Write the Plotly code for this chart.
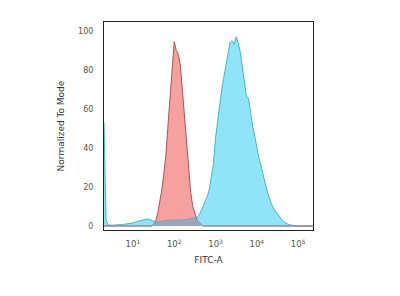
import numpy as np
import plotly.graph_objects as go

# log10 fluorescence grid (FITC-A)
log_x = [round(0.30 + 0.05 * i, 2) for i in range(102)]

cyan_vals = [
    53, 3, 0.5, 0.3, 0.4, 0.5, 0.5, 0.6, 0.7, 0.8,          # 0.30-0.75
    0.9, 1.0, 1.1, 1.3, 1.6, 2.0, 2.3, 2.6, 3.0, 3.3,       # 0.80-1.25
    3.4, 3.6, 3.4, 3.0, 2.3, 2.0, 2.2, 2.4, 2.6, 2.8,       # 1.30-1.75
    2.9, 3.0, 3.0, 3.0, 3.1, 3.1, 3.1, 3.2, 3.2, 3.3,       # 1.80-2.25
    3.4, 3.5, 3.7, 4.0, 4.3, 4.5, 5.5, 7.5, 10, 13,         # 2.30-2.75
    15, 19, 25, 32, 45, 54, 63, 70, 76, 82,                 # 2.80-3.25
    88, 94, 95, 93, 97, 94, 89, 81, 74, 66,                 # 3.30-3.75
    65.5, 58, 51, 46, 40, 35, 31, 26, 22, 18,               # 3.80-4.25
    14.5, 11.5, 9, 7.5, 6, 4.5, 3.2, 2.2, 1.5, 1.0,         # 4.30-4.75
    0.6, 0.3, 0.1, 0, 0, 0, 0, 0.2, 0.3, 0.1,               # 4.80-5.25
    0, 0,                                                   # 5.30-5.35
]

red_vals = [0] * 24 + [
    0.8, 2.5, 6.5, 12, 18.5, 27, 37, 52, 66, 79,            # 1.50-1.95
    94.5, 90, 88, 82, 69, 54, 40, 28, 17, 10,               # 2.00-2.45
    6, 3.2, 1.8, 0.6, 0,                                    # 2.50-2.70
] + [0] * 53

x_vals = [10 ** v for v in log_x]
overlap = [min(a, b) if b > 0 else 0 for a, b in zip(cyan_vals, red_vals)]

fig = go.Figure()
fig.add_trace(go.Scatter(x=x_vals, y=cyan_vals, mode="lines", fill="tozeroy",
                         fillcolor="#8fe4f7", line=dict(color="#45b7c8", width=1),
                         hoverinfo="skip", showlegend=False))
fig.add_trace(go.Scatter(x=x_vals, y=red_vals, mode="lines", fill="tozeroy",
                         fillcolor="#f6a0a0", line=dict(color="#a8555a", width=1),
                         hoverinfo="skip", showlegend=False))
fig.add_trace(go.Scatter(x=x_vals, y=overlap, mode="lines", fill="tozeroy",
                         fillcolor="#97a8bb", line=dict(color="#8a9db2", width=0.8),
                         hoverinfo="skip", showlegend=False))

tick_vals = [10, 100, 1000, 10000, 100000]
tick_text = ["10<sup>1</sup>", "10<sup>2</sup>", "10<sup>3</sup>", "10<sup>4</sup>", "10<sup>5</sup>"]

fig.update_layout(
    width=400, height=296,
    margin=dict(l=104, r=87, t=22, b=66),
    paper_bgcolor="white", plot_bgcolor="white",
    font=dict(family="DejaVu Sans", size=8, color="#555555"),
    xaxis=dict(type="log", range=[0.3, 5.36], tickvals=tick_vals, ticktext=tick_text,
               showgrid=False, zeroline=False, showline=True, linecolor="#222222",
               linewidth=1, mirror=True, ticks="", ticklabelstandoff=6,
               tickfont=dict(size=8.5),
               title=dict(text="FITC-A", font=dict(size=9, color="#333333"), standoff=8)),
    yaxis=dict(range=[-2.05, 104.6], tickvals=[0, 20, 40, 60, 80, 100],
               showgrid=False, zeroline=False, showline=True, linecolor="#222222",
               linewidth=1, mirror=True, ticks="", ticklabelstandoff=8,
               title=dict(text="Normalized To Mode", font=dict(size=9, color="#333333"), standoff=11)),
)

fig.write_html("out.html")
